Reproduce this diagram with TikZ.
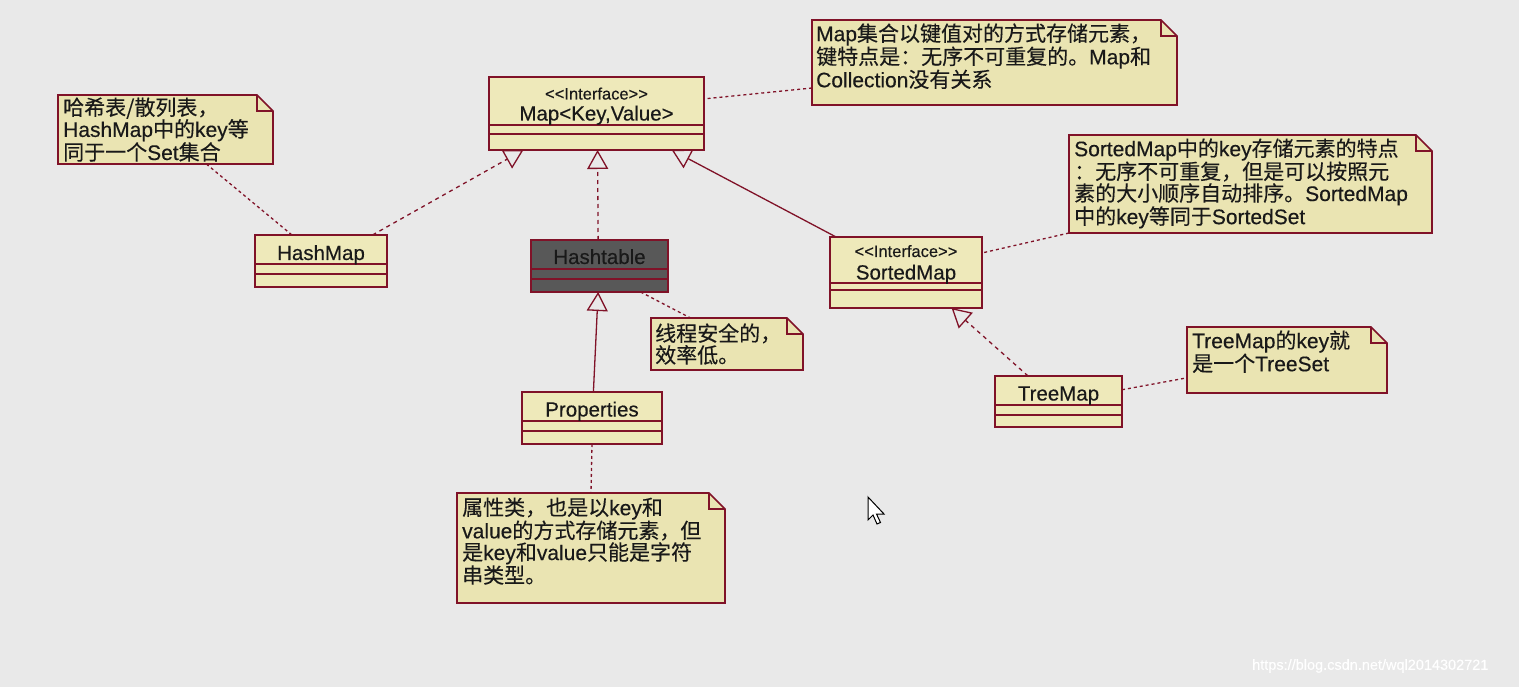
\documentclass[tikz,border=0pt]{standalone}
\usepackage{fontspec}
\setmainfont{Liberation Sans}[FakeBold=0.35]
\newfontfamily\cjk{Noto Sans CJK SC}[FakeBold=0.25]
\usetikzlibrary{arrows.meta,calc}
\definecolor{bg}{RGB}{233,233,233}
\definecolor{umlred}{RGB}{128,18,40}
\definecolor{clsfill}{RGB}{238,233,186}
\definecolor{notefill}{RGB}{234,228,178}
\definecolor{htfill}{RGB}{88,88,88}
\definecolor{txt}{RGB}{25,25,25}
\newcommand\zh[1]{{\cjk #1}}
\tikzset{
  cls/.style={draw=umlred, fill=clsfill, line width=1.6pt, inner sep=0pt, outer sep=0pt, anchor=north west},
  notebox/.style={inner sep=0pt, outer sep=0pt, anchor=north west},
  noteshape/.style={draw=umlred, fill=notefill, line width=1.6pt, line join=miter},
  notetext/.style={anchor=north west, inner sep=0pt, align=left, text=txt, font=\fontsize{21}{21.7}\selectfont},
  clsname/.style={anchor=base, inner sep=0pt, text=txt, font=\fontsize{20.5}{24}\selectfont},
  stereo/.style={anchor=base, inner sep=0pt, text=txt, font=\fontsize{16.5}{18}\selectfont},
  link/.style={draw=umlred, line width=1.3pt, dash pattern=on 3pt off 3pt},
  realize/.style={draw=umlred, line width=1.3pt, dash pattern=on 4pt off 4pt, -{Triangle[open,length=19pt,width=21pt]}},
  generalize/.style={draw=umlred, line width=1.3pt, -{Triangle[open,length=19pt,width=21pt]}},
}
% name, x, y, w, h, sep1, sep2, extra style
\newcommand\umlclass[8]{%
  \node[cls, minimum width=#4pt, minimum height=#5pt, #8] (#1) at (#2,#3) {};
  \draw[umlred, line width=1.5pt] ([yshift=-#6pt]#1.north west) -- ([yshift=-#6pt]#1.north east);
  \draw[umlred, line width=1.5pt] ([yshift=-#7pt]#1.north west) -- ([yshift=-#7pt]#1.north east);
}
% name, x, y, w, h
\newcommand\umlnote[5]{%
  \node[notebox, minimum width=#4pt, minimum height=#5pt] (#1) at (#2,#3) {};
  \filldraw[noteshape] (#1.north west) -- ([xshift=-16pt]#1.north east) -- ([yshift=-16pt]#1.north east) -- (#1.south east) -- (#1.south west) -- cycle;
  \draw[noteshape, fill=none] ([xshift=-16pt]#1.north east) -- ([xshift=-16pt,yshift=-16pt]#1.north east) -- ([yshift=-16pt]#1.north east);
}
\begin{document}
\begin{tikzpicture}[x=1pt,y=-1pt]
\path[fill=bg, use as bounding box] (0,0) rectangle (1519,687);

% classes
\umlclass{map}{489}{77}{215}{73}{48}{57}{}
\node[stereo] (mapst) at (596.5,99.5) {<{}<Interface>{}>};
\node[clsname] (mapn) at (596.5,120.5) {Map<Key,Value>};

\umlclass{hm}{255}{235}{132}{52}{29}{39}{}
\node[clsname] (hmn) at (321,260) {HashMap};

\umlclass{ht}{531}{240}{137}{52}{29}{39}{fill=htfill}
\node[clsname] (htn) at (599.5,264) {Hashtable};

\umlclass{sm}{830}{237}{152}{71}{46}{53}{}
\node[stereo] (smst) at (906,257) {<{}<Interface>{}>};
\node[clsname] (smn) at (906,279.5) {SortedMap};

\umlclass{pr}{522}{392}{140}{52}{29}{39}{}
\node[clsname] (prn) at (592,416.5) {Properties};

\umlclass{tm}{995}{376}{127}{51}{29}{39}{}
\node[clsname] (tmn) at (1058.5,400.5) {TreeMap};

% notes
\umlnote{nmap}{812}{20}{365}{85}
\node[notetext] (nmapt) at (816,22) {\rule{0pt}{19pt}Map\zh{集合以键值对的方式存储元素，}\\ \zh{键特点是：无序不可重复的。}Map\zh{和}\\ Collection\zh{没有关系}};

\umlnote{nhm}{58}{95}{215}{69}
\node[notetext] (nhmt) at (63,96) {\rule{0pt}{19pt}\zh{哈希表/散列表，}\\ HashMap\zh{中的}key\zh{等}\\ \zh{同于一个}Set\zh{集合}};

\umlnote{nsm}{1069}{135}{363}{98}
\node[notetext] (nsmt) at (1074,137) {\rule{0pt}{19pt}SortedMap\zh{中的}key\zh{存储元素的特点}\\ \zh{：无序不可重复，但是可以按照元}\\ \zh{素的大小顺序自动排序。}SortedMap\\ \zh{中的}key\zh{等同于}SortedSet};

\umlnote{nht}{651}{318}{152}{52}
\node[notetext] (nhtt) at (655,322) {\rule{0pt}{19pt}\zh{线程安全的，}\\ \zh{效率低。}};

\umlnote{ntm}{1187}{327}{200}{66}
\node[notetext] (ntmt) at (1192,329) {\rule{0pt}{19pt}TreeMap\zh{的}key\zh{就}\\ \zh{是一个}TreeSet};

\umlnote{npr}{457}{493}{268}{110}
\node[notetext] (nprt) at (462,496) {\rule{0pt}{19pt}\zh{属性类，也是以}key\zh{和}\\ value\zh{的方式存储元素，但}\\ \zh{是}key\zh{和}value\zh{只能是字符}\\ \zh{串类型。}};

% inheritance / realization
\draw[realize] ($(hm.north west)!0.89!(hm.north east)$) -- ($(map.south west)!0.16!(map.south east)$);
\draw[realize] ($(ht.north west)!0.49!(ht.north east)$) -- ($(map.south west)!0.505!(map.south east)$);
\draw[generalize] ($(sm.north west)!0.04!(sm.north east)$) -- ($(map.south west)!0.85!(map.south east)$);
\draw[generalize] ($(pr.north west)!0.51!(pr.north east)$) -- ($(ht.south west)!0.49!(ht.south east)$);
\draw[realize] ($(tm.north west)!0.26!(tm.north east)$) -- ($(sm.south west)!0.8!(sm.south east)$);

% note links
\draw[link] ($(nhm.south west)!0.69!(nhm.south east)$) -- ($(hm.north west)!0.28!(hm.north east)$);
\draw[link] ($(nmap.north west)!0.8!(nmap.south west)$) -- ($(map.north east)!0.3!(map.south east)$);
\draw[link] (nsm.south west) -- ($(sm.north east)!0.225!(sm.south east)$);
\draw[link] ($(ht.south west)!0.8!(ht.south east)$) -- ($(nht.north west)!0.26!(nht.north east)$);
\draw[link] ($(tm.north east)!0.27!(tm.south east)$) -- ($(ntm.north west)!0.77!(ntm.south west)$);
\draw[link] ($(pr.south west)!0.5!(pr.south east)$) -- ($(npr.north west)!0.5!(npr.north east)$);

% mouse pointer
\filldraw[fill=white, draw=black, line width=1pt, line join=miter] (868,497) -- (868,520) -- (873,515) -- (877,524) -- (880.5,522.5) -- (876.5,514) -- (884,514) -- cycle;

% watermark
\node[anchor=west, inner sep=0pt, text=white, font=\fontsize{14.5}{16}\selectfont] (wm) at (1252,666) {https://blog.csdn.net/wql2014302721};
\end{tikzpicture}
\end{document}
